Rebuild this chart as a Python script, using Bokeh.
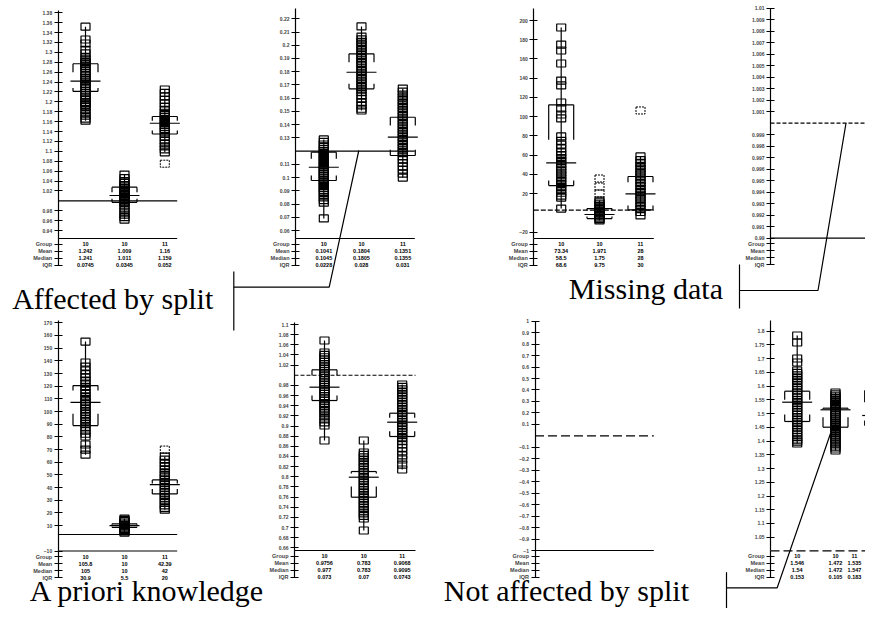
from bokeh.plotting import figure
from bokeh.models import Range1d, LinearAxis, FixedTicker
from bokeh.embed import file_html
from bokeh.resources import INLINE
from bokeh.core.properties import value
import numpy as np

# ------------------------------------------------------------------ data
ROW_LABELS = ["Group", "Mean", "Median", "IQR"]
GROUP_IDS = ["10", "10", "11"]
CAPTIONS = ["Affected by split", "Missing data", "A priori knowledge", "Not affected by split"]

# panel 1 (top left)
P1_TICKS = [0.94, 0.96, 0.98, 1.02, 1.04, 1.06, 1.08, 1.10, 1.12, 1.14, 1.16, 1.18,
            1.20, 1.22, 1.24, 1.26, 1.28, 1.30, 1.32, 1.34, 1.36, 1.38]
P1_REF = 1.0
P1_G1 = [1.352, 1.326, 1.318, 1.305, 1.298, 1.290, 1.286, 1.281, 1.278, 1.276, 1.272, 1.268,
         1.262, 1.258, 1.253, 1.249, 1.245, 1.241, 1.236, 1.232, 1.228, 1.223, 1.218, 1.213,
         1.209, 1.205, 1.200, 1.197, 1.194, 1.190, 1.184, 1.178, 1.172, 1.166, 1.162]
P1_G2 = [1.053, 1.046, 1.040, 1.036, 1.032, 1.029, 1.026, 1.023, 1.020, 1.017, 1.014, 1.011,
         1.008, 1.005, 1.002, 0.999, 0.996, 0.990, 0.984, 0.978, 0.972, 0.967, 0.962]
P1_G3 = [1.225, 1.218, 1.211, 1.204, 1.197, 1.190, 1.184, 1.178, 1.173, 1.169, 1.165, 1.161,
         1.157, 1.153, 1.149, 1.145, 1.140, 1.135, 1.129, 1.122, 1.116, 1.110, 1.104, 1.098]
P1_OUT = [[], [], [1.075]]
P1_BOX = [[1.277, 1.260, 1.242, 1.228, 1.221],
          [1.0275, 1.0174, 1.0107, 1.004, 0.997],
          [1.1704, 1.162, 1.1568, 1.142, 1.135]]

# panel 2
P2_TICKS = [0.06, 0.07, 0.08, 0.09, 0.10, 0.11, 0.13, 0.14, 0.15, 0.16, 0.17, 0.18,
            0.19, 0.20, 0.21, 0.22]
P2_REF = 0.12
P2_G1 = [0.1288, 0.1270, 0.1250, 0.1232, 0.1215, 0.1200, 0.1185, 0.1170, 0.1155, 0.1140,
         0.1125, 0.1110, 0.1095, 0.1080, 0.1066, 0.1052, 0.1038, 0.1024, 0.1010, 0.0995,
         0.0980, 0.0965, 0.0950, 0.0935, 0.0920, 0.0905, 0.0890, 0.0870, 0.0850, 0.0830,
         0.0810, 0.0691]
P2_G2 = [0.2142, 0.2066, 0.2045, 0.2025, 0.2005, 0.1985, 0.1965, 0.1945, 0.1925, 0.1905,
         0.1885, 0.1865, 0.1845, 0.1825, 0.1805, 0.1785, 0.1765, 0.1745, 0.1725, 0.1705,
         0.1685, 0.1665, 0.1645, 0.1620, 0.1595, 0.1570, 0.1545, 0.1520, 0.1507]
P2_G3 = [0.1673, 0.1650, 0.1628, 0.1606, 0.1585, 0.1565, 0.1545, 0.1525, 0.1505, 0.1485,
         0.1465, 0.1445, 0.1425, 0.1405, 0.1385, 0.1365, 0.1345, 0.1325, 0.1305, 0.1285,
         0.1265, 0.1245, 0.1225, 0.1205, 0.1185, 0.1160, 0.1135, 0.1110, 0.1085, 0.1060,
         0.1030, 0.1000]
P2_OUT = [[], [], []]
P2_BOX = [[0.1192, 0.1142, 0.1078, 0.1016, 0.0978],
          [0.1935, 0.1872, 0.1796, 0.1709, 0.1671],
          [0.1456, 0.1394, 0.1305, 0.1210, 0.1167]]

# panel 3
P3_TICKS = [-20, 20, 40, 60, 80, 100, 120, 140, 160, 180, 200]
P3_REF = 3
P3_G1 = [192.7, 175.0, 168.8, 155.3, 137.6, 132.5, 114.8, 108.6, 102.3, 98.2, 79.5, 75, 71,
         67, 63, 60, 57, 54, 51, 48, 45, 42, 39, 36, 33, 30, 27, 24, 21, 18, 16, 4.6]
P3_G2 = [12.9, 11, 9, 7, 5.5, 4, 2.5, 1, -0.5, -2, -3.5, -5, -6.5, -7.8]
P3_G3 = [58.7, 55, 52, 49, 46, 43, 40, 37, 34, 31, 28, 25, 22, 19, 16, 13, 10, 7, 4, 1, -2.6]
P3_OUT = [[], [35.8, 27.5, 20.2], [106.5]]
P3_BOX = [[112.4, 76.0, 52.1, 33.7, 28.5],
          [4.6, 2.5, -1.6, -3.7, -5.8],
          [37.9, 32.0, 19.9, 7.7, 3.3]]

# panel 4 (no groups visible)
P4_TICKS = [0.99, 0.991, 0.992, 0.993, 0.994, 0.995, 0.996, 0.997, 0.998, 0.999,
            1.001, 1.002, 1.003, 1.004, 1.005, 1.006, 1.007, 1.008, 1.009, 1.01]
P4_REF = 1.0

# panel 5
P5_TICKS = [-10, 10, 20, 30, 40, 50, 60, 70, 80, 90, 100, 110, 120, 130, 140, 150, 160, 170]
P5_REF = 3
P5_G1 = [155.2, 138.7, 135.5, 132.5, 129.5, 127, 124.5, 122, 119.5, 117, 114.5, 112, 110,
         108, 106, 104, 102, 100, 98, 96, 94, 92, 90, 87.5, 85, 82.5, 80.3, 74, 70, 66]
P5_G2 = [15.5, 14.5, 13.5, 12.5, 11.5, 10.5, 9.5, 8.5, 7.5, 6.5, 5.5, 4.5]
P5_G3 = [64.5, 62, 59.5, 57, 54.5, 52, 50, 48, 46, 44, 42, 40, 38, 36, 34, 32, 30, 28, 26,
         24, 22.6]
P5_OUT = [[], [], [70]]
P5_BOX = [[120.5, 116.6, 107.3, 98.2, 88.9],
          [11.4, 10.8, 10.0, 9.2, 8.7],
          [46.1, 43.2, 42.4, 38.9, 35.0]]

# panel 6
P6_TICKS = [0.66, 0.68, 0.70, 0.72, 0.74, 0.76, 0.78, 0.80, 0.82, 0.84, 0.86, 0.88, 0.90,
            0.92, 0.94, 0.96, 0.98, 1.02, 1.04, 1.06, 1.08, 1.10]
P6_REF = 1.0
P6_G1 = [1.0685, 1.0448, 1.0400, 1.0355, 1.0310, 1.0265, 1.0220, 1.0175, 1.0130, 1.0085,
         1.0040, 0.9995, 0.9950, 0.9905, 0.9860, 0.9815, 0.9770, 0.9725, 0.9680, 0.9635,
         0.9590, 0.9545, 0.9500, 0.9450, 0.9400, 0.9350, 0.9300, 0.9250, 0.9190, 0.9130,
         0.9070, 0.9010, 0.8714]
P6_G2 = [0.8714, 0.8478, 0.8430, 0.8380, 0.8330, 0.8280, 0.8230, 0.8180, 0.8130, 0.8080,
         0.8030, 0.7980, 0.7930, 0.7880, 0.7830, 0.7780, 0.7730, 0.7680, 0.7630, 0.7580,
         0.7530, 0.7480, 0.7430, 0.7380, 0.7330, 0.7280, 0.7230, 0.7177, 0.6941]
P6_G3 = [0.9818, 0.9770, 0.9720, 0.9670, 0.9620, 0.9570, 0.9520, 0.9470, 0.9420, 0.9370,
         0.9320, 0.9270, 0.9220, 0.9170, 0.9120, 0.9070, 0.9020, 0.8970, 0.8920, 0.8870,
         0.8820, 0.8760, 0.8700, 0.8640, 0.8570, 0.8500, 0.8420, 0.8340, 0.8240, 0.8143]
P6_OUT = [[], [], []]
P6_BOX = [[1.0107, 0.9995, 0.9765, 0.9601, 0.9502],
          [0.8103, 0.8064, 0.7991, 0.7808, 0.7597],
          [0.9252, 0.9162, 0.9075, 0.8898, 0.8793]]

# panel 7 (no groups)
P7_TICKS = [-1.0, -0.9, -0.8, -0.7, -0.6, -0.5, -0.4, -0.3, -0.2, -0.1,
            0.1, 0.2, 0.3, 0.4, 0.5, 0.6, 0.7, 0.8, 0.9, 1.0]
P7_REF = 0.0

# panel 8
P8_TICKS = [1.05, 1.10, 1.15, 1.20, 1.25, 1.30, 1.35, 1.40, 1.45, 1.50, 1.55, 1.60,
            1.65, 1.70, 1.75, 1.80]
P8_REF = 1.0
P8_G1 = [1.7843, 1.7589, 1.7006, 1.6861, 1.6570, 1.6480, 1.6390, 1.6300, 1.6210, 1.6120,
         1.6030, 1.5940, 1.5850, 1.5760, 1.5670, 1.5580, 1.5490, 1.5400, 1.5310, 1.5220,
         1.5130, 1.5040, 1.4950, 1.4860, 1.4770, 1.4680, 1.4590, 1.4500, 1.4410, 1.4320,
         1.4230, 1.4140, 1.4050, 1.3980, 1.3912]
P8_G2 = [1.5769, 1.5700, 1.5630, 1.5560, 1.5490, 1.5420, 1.5350, 1.5280, 1.5210, 1.5140,
         1.5070, 1.5000, 1.4930, 1.4860, 1.4790, 1.4720, 1.4650, 1.4580, 1.4510, 1.4440,
         1.4370, 1.4300, 1.4230, 1.4160, 1.4090, 1.4020, 1.3950, 1.3880, 1.3800, 1.3730,
         1.3657]
P8_G3 = [1.7443, 1.7043, 1.6950, 1.6860, 1.6770, 1.6680, 1.6590, 1.6500, 1.6410, 1.6320,
         1.6230, 1.6140, 1.6050, 1.5960, 1.5870, 1.5780, 1.5690, 1.5600, 1.5510, 1.5430,
         1.5368, 1.5077, 1.4990, 1.4900, 1.4810, 1.4720, 1.4630, 1.4540, 1.4450, 1.4360,
         1.4270, 1.4180, 1.4090, 1.4000, 1.3912, 1.3220, 1.3020, 1.2820]
P8_OUT = [[], [], []]
P8_BOX = [[1.5816, 1.5503, 1.5415, 1.4968, 1.4713],
          [1.5197, 1.5168, 1.5139, 1.4869, 1.4505],
          [1.5841, 1.5415, 1.4931, 1.4749, 1.4567]]

# ------------------------------------------------------------------ layout (picture pixels)
PANELS = [
    dict(name="p1", ticks=P1_TICKS, ref=P1_REF, ref_dash="solid", groups=[P1_G1, P1_G2, P1_G3],
         out=P1_OUT, box=P1_BOX, cal=(P1_TICKS[-1], 12.3, P1_TICKS[0], 230.0),
         axis_x=57.7, top=10.0, fb=238.0, gx=[85.0, 124.0, 164.3], x_end=176.7, frame=True),
    dict(name="p2", ticks=P2_TICKS, ref=P2_REF, ref_dash="solid", groups=[P2_G1, P2_G2, P2_G3],
         out=P2_OUT, box=P2_BOX, cal=(P2_TICKS[-1], 18.3, P2_TICKS[0], 230.0),
         axis_x=295.0, top=8.3, fb=238.0, gx=[323.3, 361.0, 402.3], x_end=414.3, frame=True),
    dict(name="p3", ticks=P3_TICKS, ref=P3_REF, ref_dash="5 2", groups=[P3_G1, P3_G2, P3_G3],
         out=P3_OUT, box=P3_BOX, cal=(P3_TICKS[-1], 20.0, P3_TICKS[0], 231.7),
         axis_x=533.3, top=8.3, fb=238.0, gx=[560.7, 599.0, 640.0], x_end=653.3, frame=True),
    dict(name="p4", ticks=P4_TICKS, ref=P4_REF, ref_dash="4 2", groups=[],
         out=[], box=[], cal=(P4_TICKS[-1], 7.7, P4_TICKS[0], 237.7),
         axis_x=770.0, top=7.7, fb=237.7, gx=[], x_end=881.0, frame=True),
    dict(name="p5", ticks=P5_TICKS, ref=P5_REF, ref_dash="solid", groups=[P5_G1, P5_G2, P5_G3],
         out=P5_OUT, box=P5_BOX, cal=(P5_TICKS[-1], 322.3, P5_TICKS[0], 550.5),
         axis_x=57.7, top=320.0, fb=550.5, gx=[85.0, 124.0, 164.3], x_end=176.7, frame=True),
    dict(name="p6", ticks=P6_TICKS, ref=P6_REF, ref_dash="4 2", groups=[P6_G1, P6_G2, P6_G3],
         out=P6_OUT, box=P6_BOX, cal=(P6_TICKS[-1], 324.0, P6_TICKS[0], 547.3),
         axis_x=294.0, top=321.7, fb=550.0, gx=[324.0, 363.3, 401.7], x_end=415.0, frame=True),
    dict(name="p7", ticks=P7_TICKS, ref=P7_REF, ref_dash="9 4", groups=[],
         out=[], box=[], cal=(P7_TICKS[-1], 320.7, P7_TICKS[0], 550.0),
         axis_x=534.5, top=320.7, fb=550.0, gx=[], x_end=653.3, frame=True),
    dict(name="p8", ticks=P8_TICKS, ref=P8_REF, ref_dash="9 4", groups=[P8_G1, P8_G2, P8_G3],
         out=P8_OUT, box=P8_BOX, cal=(P8_TICKS[-1], 330.7, P8_TICKS[0], 536.7),
         axis_x=770.0, top=320.0, fb=550.0, gx=[796.7, 835.0, 876.7], x_end=881.0, frame=False),
]

W, H = 865, 608
# the canvas shows picture pixels 0..W and 0..H
TOP_PX, BOT_PX, LEFT_PX, RIGHT_PX = 0, H, 0, W

p = figure(width=W, height=H, x_range=Range1d(LEFT_PX, RIGHT_PX), y_range=Range1d(BOT_PX, TOP_PX),
           output_backend="svg", toolbar_location=None, x_axis_type=None, y_axis_type=None,
           min_border=0, outline_line_color=None, background_fill_color="white",
           border_fill_color="white")

LBL_FONT = "Liberation Sans"
INK = "black"

for pn in PANELS:
    va, ya, vb, yb = pn["cal"]
    k = (yb - ya) / (va - vb)          # pixels per unit, value grows upward

    def vmap(y, va=va, ya=ya, k=k):
        return va + (ya - y) / k

    name = pn["name"]
    p.extra_y_ranges[name] = Range1d(start=vmap(BOT_PX), end=vmap(TOP_PX))

    fb = pn["fb"]
    row0 = fb + 5.5
    rstep = 7.0

    def tmap(y, row0=row0):
        return 1 + (y - row0) / rstep

    tname = name + "t"
    p.extra_y_ranges[tname] = Range1d(start=tmap(BOT_PX), end=tmap(TOP_PX))

    ax = LinearAxis(y_range_name=name, fixed_location=pn["axis_x"],
                    bounds=(vmap(fb), vmap(pn["top"])),
                    ticker=FixedTicker(ticks=pn["ticks"]),
                    major_tick_in=4, major_tick_out=4, minor_tick_line_color=None,
                    major_label_text_font_size="5px", major_label_text_font=LBL_FONT,
                    major_label_text_font_style="bold", major_label_standoff=2,
                    axis_line_width=1.2, major_tick_line_width=1.2)
    p.add_layout(ax, "left")

    tax = LinearAxis(y_range_name=tname, fixed_location=pn["axis_x"],
                     bounds=(tmap(fb), 4.0),
                     ticker=FixedTicker(ticks=[1, 2, 3, 4]),
                     major_label_overrides={i + 1: lab for i, lab in enumerate(ROW_LABELS)},
                     major_tick_in=4, major_tick_out=4, minor_tick_line_color=None,
                     major_label_text_font_size="5.5px", major_label_text_font=LBL_FONT,
                     major_label_text_font_style="bold", major_label_standoff=2,
                     axis_line_width=1.2, major_tick_line_width=1.2)
    p.add_layout(tax, "left")

    # frame bottom line and reference line
    if pn["frame"]:
        p.segment(x0=[pn["axis_x"]], y0=[fb], x1=[pn["x_end"]], y1=[fb],
                  line_color=INK, line_width=1.2)
    p.segment(x0=[pn["axis_x"]], y0=[pn["ref"]], x1=[pn["x_end"]], y1=[pn["ref"]],
              y_range_name=name, line_color=INK, line_width=1.2, line_dash=pn["ref_dash"])

    for gi, vals in enumerate(pn["groups"]):
        gx = pn["gx"][gi]
        # whisker
        p.segment(x0=[gx], y0=[min(vals)], x1=[gx], y1=[max(vals)], y_range_name=name,
                  line_color=INK, line_width=1.2)
        # observations
        p.rect(x=[gx] * len(vals), y=vals, width=9, height=7, width_units="screen",
               height_units="screen", y_range_name=name, fill_color=None,
               line_color=INK, line_width=1.2)
        if pn["out"][gi]:
            o = pn["out"][gi]
            p.rect(x=[gx] * len(o), y=o, width=9, height=7, width_units="screen",
                   height_units="screen", y_range_name=name, fill_color=None,
                   line_color=INK, line_width=1.0, line_dash="2 1")
        # brackets + centre line
        u, ul, c, ll, lo = pn["box"][gi]
        hw, cw = 12.5, 15.0
        x0 = [gx - hw, gx - hw, gx + hw, gx - cw, gx - hw, gx - hw, gx + hw]
        x1 = [gx + hw, gx - hw, gx + hw, gx + cw, gx + hw, gx - hw, gx + hw]
        y0 = [u, u, u, c, lo, lo, lo]
        y1 = [u, ul, ul, c, lo, ll, ll]
        p.segment(x0=x0, y0=y0, x1=x1, y1=y1, y_range_name=name, line_color=INK, line_width=1.2)

        # summary table under the axis (kept inside the canvas)
        arr = np.array(vals)
        q1, q3 = np.percentile(arr, [25, 75])
        cells = [GROUP_IDS[gi], f"{arr.mean():.4g}", f"{np.median(arr):.4g}", f"{q3 - q1:.3g}"]
        tx = min(gx, RIGHT_PX - 11)
        p.text(x=[tx] * 4, y=[1, 2, 3, 4], text=cells, y_range_name=tname,
               text_align="center", text_baseline="middle", text_font=value(LBL_FONT),
               text_font_size="5.5px", text_font_style="bold", text_color=INK)

# ------------------------------------------------------------------ captions and call-outs
# (y = vertical middle of each caption line)
CAP_POS = [(11.7, 297.7), (568.3, 288.3), (29.3, 590.0), (443.3, 590.0)]
p.text(x=[c[0] for c in CAP_POS], y=[c[1] for c in CAP_POS], text=CAPTIONS,
       text_font=value("Liberation Serif"), text_font_size="30px",
       text_align="left", text_baseline="middle", text_color=INK)

BARS = [(233.3, 271.0, 330.0), (739.0, 264.0, 308.0), (726.0, 571.7, 621.7)]
p.segment(x0=[b[0] for b in BARS], y0=[b[1] for b in BARS], x1=[b[0] for b in BARS],
          y1=[b[2] for b in BARS], line_color=INK, line_width=1.2)
CALLOUTS = [[(233.3, 286.7), (328.7, 286.7), (358.3, 150.0)],
            [(739.0, 290.0), (817.5, 290.0), (845.5, 122.7)],
            [(726.0, 587.3), (776.7, 587.3), (830.0, 433.0)]]
for cl in CALLOUTS:
    p.line(x=[q[0] for q in cl], y=[q[1] for q in cl], line_color=INK, line_width=1.2)

open("out.html", "w").write(file_html(p, INLINE))
